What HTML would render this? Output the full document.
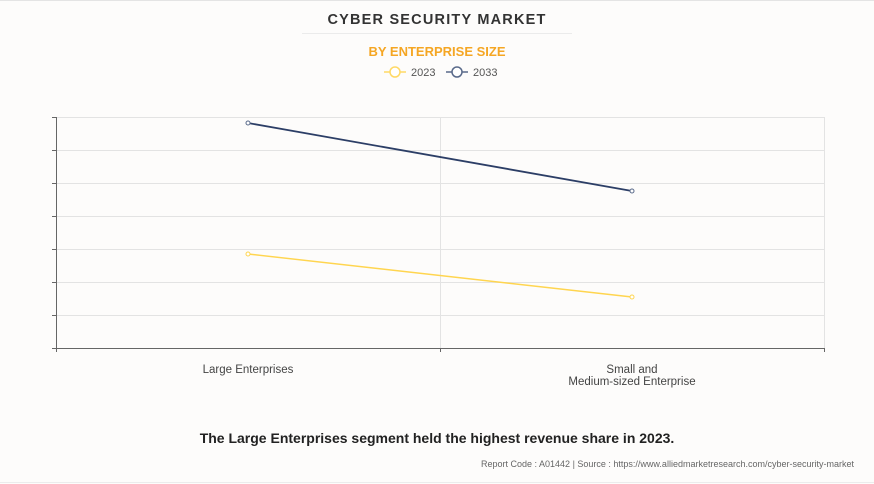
<!DOCTYPE html>
<html><head><meta charset="utf-8"><style>
html,body{margin:0;padding:0;background:#fdfcfb;}
body{width:874px;height:484px;overflow:hidden;position:relative;font-family:"Liberation Sans",sans-serif;}
</style></head><body>
<svg width="874" height="484" xmlns="http://www.w3.org/2000/svg" style="position:absolute;left:0;top:0">
<rect x="0" y="0" width="874" height="484" fill="#fdfcfb"/>
<line x1="0" y1="0.5" x2="874" y2="0.5" stroke="#e4e4e4"/>
<line x1="0" y1="482.5" x2="874" y2="482.5" stroke="#ececec"/>
<text x="437" y="24" text-anchor="middle" font-size="14.5" font-weight="bold" fill="#333" letter-spacing="1.2">CYBER SECURITY MARKET</text>
<line x1="302" y1="33.5" x2="572" y2="33.5" stroke="#ebebeb"/>
<text x="437" y="56" text-anchor="middle" font-size="13" font-weight="bold" fill="#f5a623">BY ENTERPRISE SIZE</text>
<line x1="384" y1="72" x2="406" y2="72" stroke="#ffd966" stroke-width="1.5"/>
<circle cx="395" cy="72" r="5" fill="#fff" stroke="#ffd966" stroke-width="1.5"/>
<text x="411" y="76" font-size="11" fill="#555">2023</text>
<line x1="446" y1="72" x2="468" y2="72" stroke="#5a6a8a" stroke-width="1.5"/>
<circle cx="457" cy="72" r="5" fill="#fff" stroke="#5a6a8a" stroke-width="1.5"/>
<text x="473" y="76" font-size="11" fill="#555">2033</text>
<g stroke="#e3e3e3" stroke-width="1">
<line x1="56" y1="117.5" x2="824" y2="117.5"/>
<line x1="56" y1="150.5" x2="824" y2="150.5"/>
<line x1="56" y1="183.5" x2="824" y2="183.5"/>
<line x1="56" y1="216.5" x2="824" y2="216.5"/>
<line x1="56" y1="249.5" x2="824" y2="249.5"/>
<line x1="56" y1="282.5" x2="824" y2="282.5"/>
<line x1="56" y1="315.5" x2="824" y2="315.5"/>
<line x1="440.5" y1="117" x2="440.5" y2="348"/>
<line x1="824.5" y1="117" x2="824.5" y2="348"/>
</g>
<g stroke="#666" stroke-width="1">
<line x1="56.5" y1="117" x2="56.5" y2="352"/>
<line x1="52" y1="348.5" x2="824" y2="348.5"/>
<line x1="52" y1="117.5" x2="56" y2="117.5"/>
<line x1="52" y1="150.5" x2="56" y2="150.5"/>
<line x1="52" y1="183.5" x2="56" y2="183.5"/>
<line x1="52" y1="216.5" x2="56" y2="216.5"/>
<line x1="52" y1="249.5" x2="56" y2="249.5"/>
<line x1="52" y1="282.5" x2="56" y2="282.5"/>
<line x1="52" y1="315.5" x2="56" y2="315.5"/>
<line x1="440.5" y1="348" x2="440.5" y2="352"/>
<line x1="824.5" y1="348" x2="824.5" y2="352"/>
</g>
<line x1="248" y1="254" x2="632" y2="297" stroke="#ffd54f" stroke-width="1.5"/>
<circle cx="248" cy="254" r="2" fill="#fff" stroke="#ffd54f"/>
<circle cx="632" cy="297" r="2" fill="#fff" stroke="#ffd54f"/>
<line x1="248" y1="123" x2="632" y2="191" stroke="#2c3e66" stroke-width="1.8"/>
<circle cx="248" cy="123" r="2" fill="#fff" stroke="#5a6a8a"/>
<circle cx="632" cy="191" r="2" fill="#fff" stroke="#5a6a8a"/>
<text x="248" y="373" text-anchor="middle" font-size="11.5" fill="#444">Large Enterprises</text>
<text x="632" y="373" text-anchor="middle" font-size="11.5" fill="#444">Small and</text>
<text x="632" y="385" text-anchor="middle" font-size="11.5" fill="#444">Medium-sized Enterprise</text>
<text x="437" y="443" text-anchor="middle" font-size="14" font-weight="bold" fill="#222">The Large Enterprises segment held the highest revenue share in 2023.</text>
<text x="854" y="467" text-anchor="end" font-size="9" fill="#666">Report Code : A01442  |  Source : https://www.alliedmarketresearch.com/cyber-security-market</text>
</svg>
</body></html>
